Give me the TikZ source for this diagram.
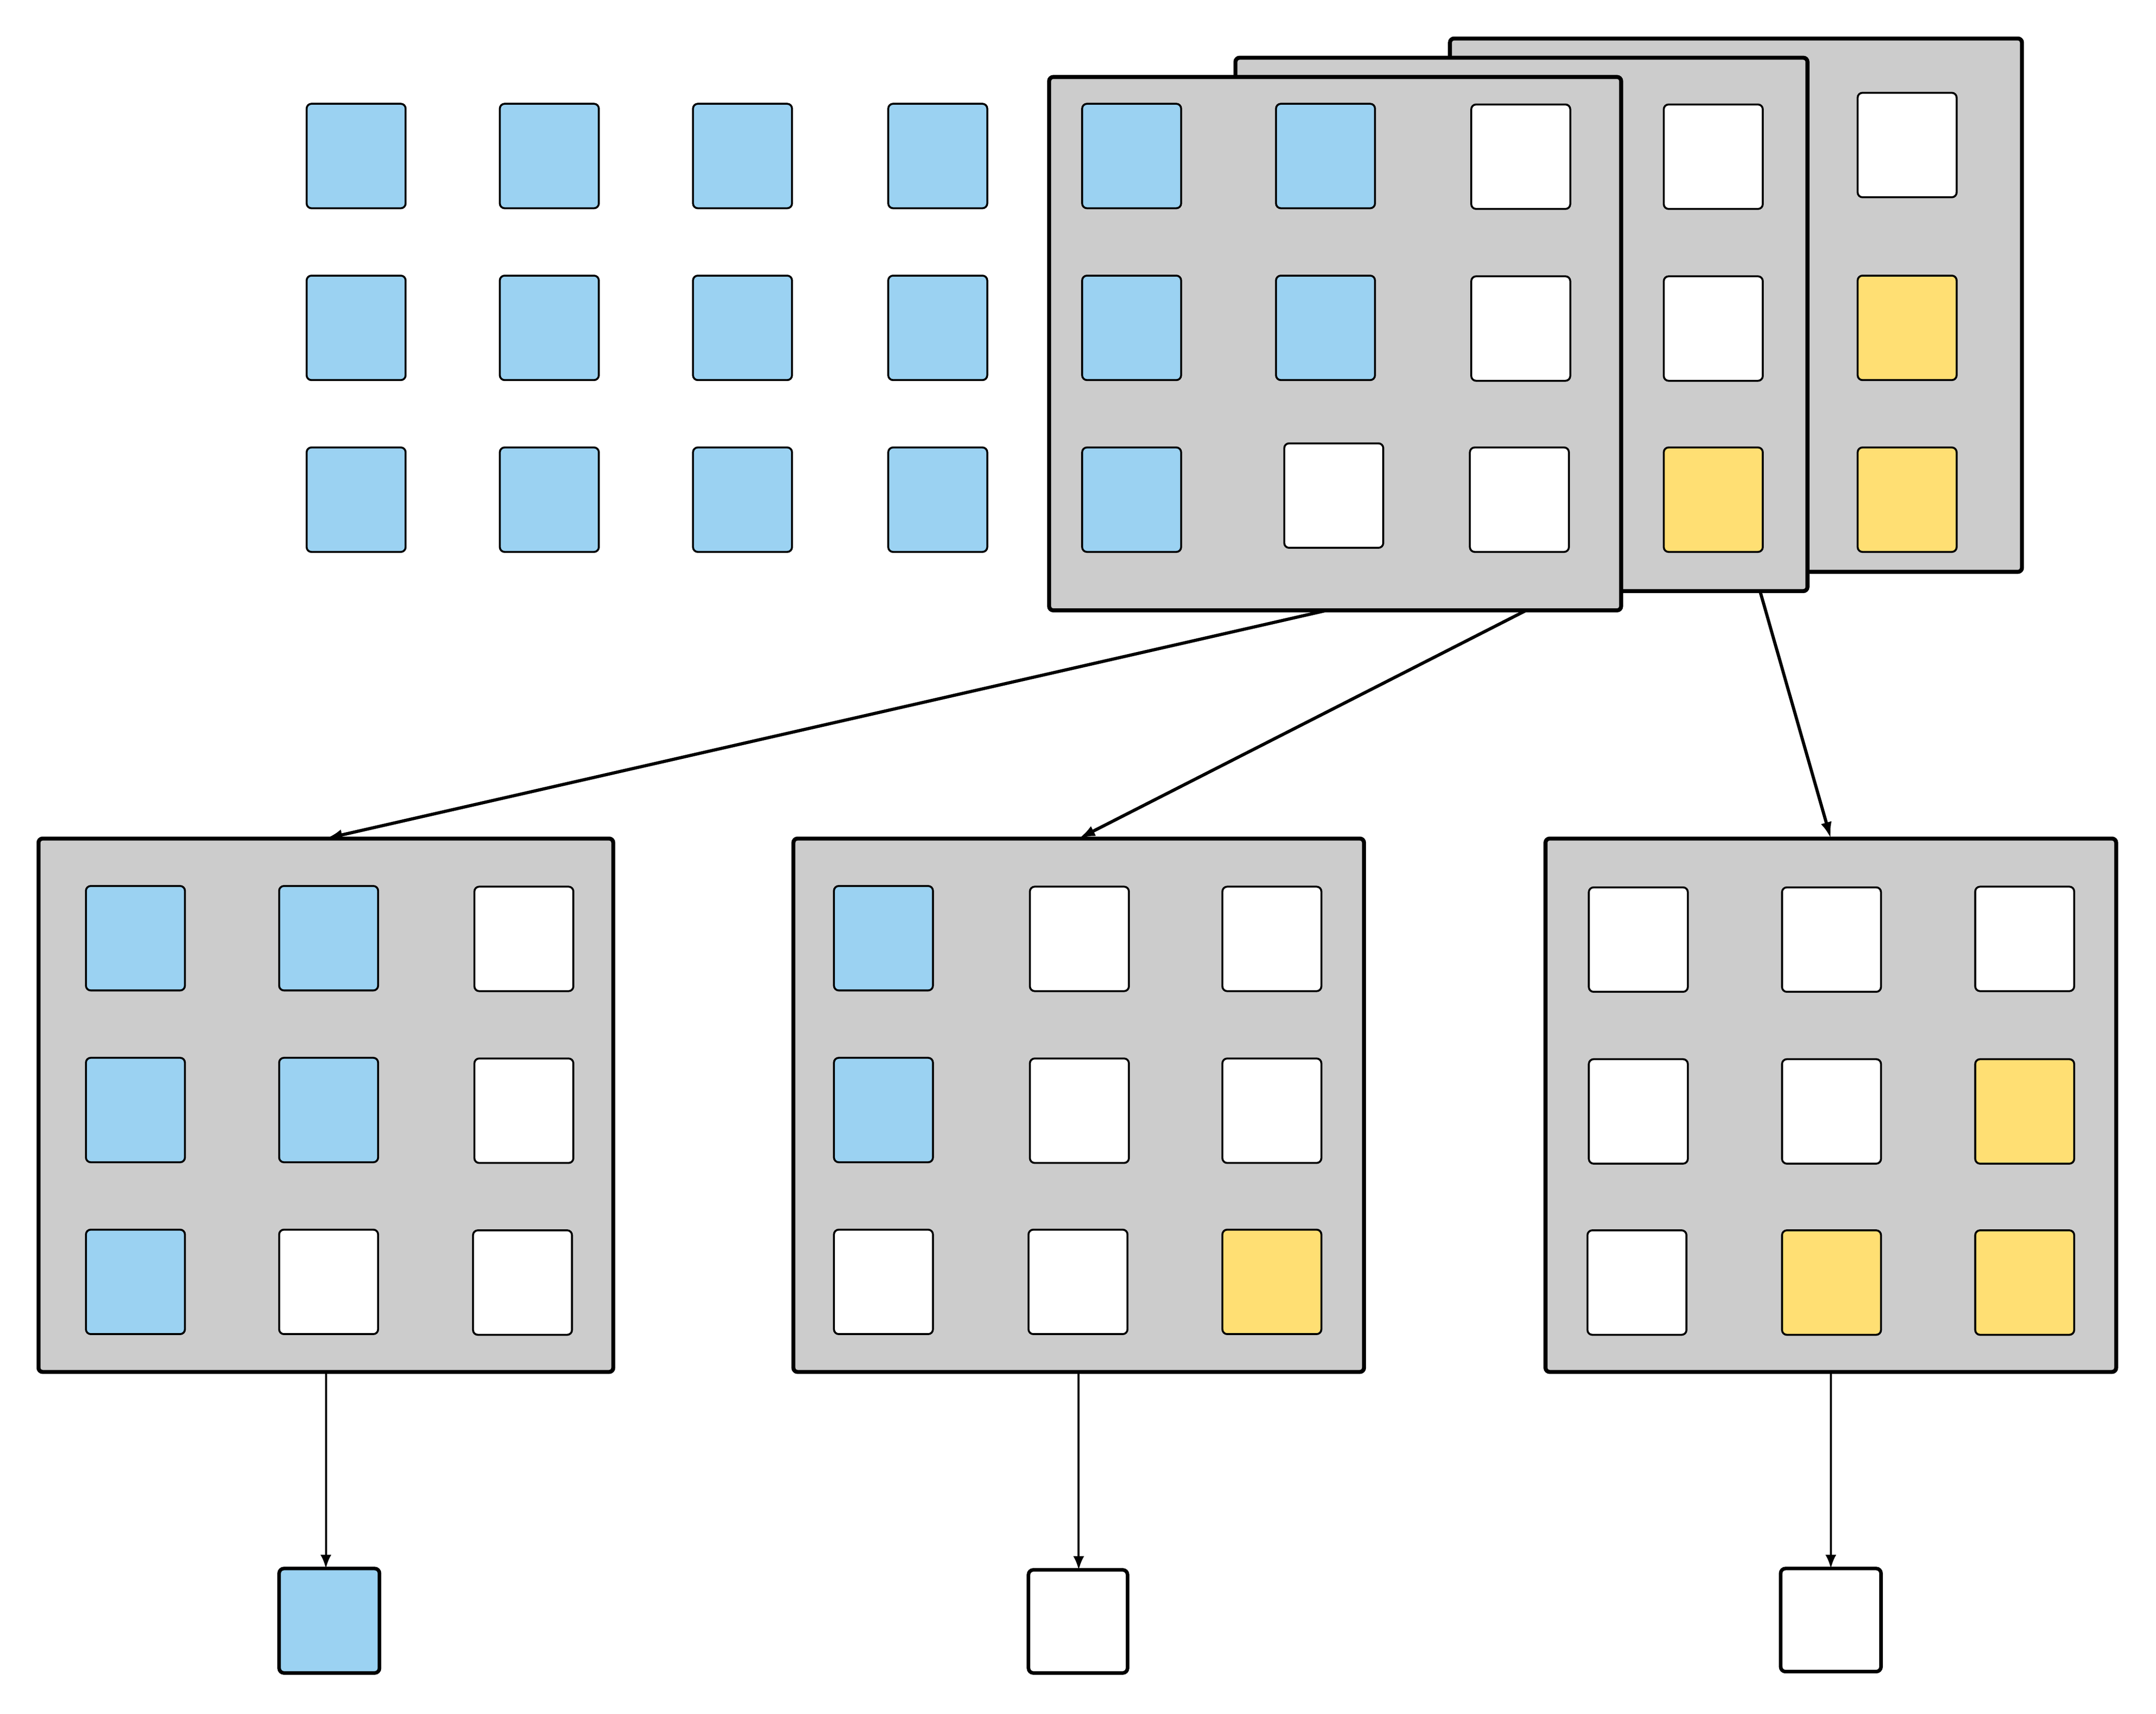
\documentclass[tikz,border=0pt]{standalone}
\usetikzlibrary{arrows.meta,calc}
\definecolor{cblue}{HTML}{9BD2F2}
\definecolor{cyel}{HTML}{FFDF73}
\definecolor{cgray}{HTML}{CCCCCC}
\tikzset{
  cell/.style={draw=black,line width=1.4pt,rounded corners=3.5pt,minimum width=72pt,minimum height=76pt,inner sep=0pt,outer sep=0pt},
  bc/.style={cell,fill=cblue},
  wc/.style={cell,fill=white},
  yc/.style={cell,fill=cyel},
  frame/.style={draw=black,line width=2.9pt,rounded corners=3pt,fill=cgray,minimum width=416pt,minimum height=388pt,inner sep=0pt,outer sep=0pt},
  outsq/.style={draw=black,line width=2.6pt,rounded corners=3.5pt,minimum width=72pt,minimum height=75pt,inner sep=0pt,outer sep=0pt},
  bigarr/.style={line width=2.3pt,-{Latex[length=12pt,width=8pt]}},
  smallarr/.style={line width=1.5pt,-{Latex[length=10pt,width=8pt]}}
}
\begin{document}
\begin{tikzpicture}[x=1pt,y=-1pt]
\useasboundingbox (0,0) rectangle (1568,1246.5);
% top-left grid
\foreach \cx [count=\i] in {259,399.5,540,682}{
  \foreach \cy [count=\j] in {113.5,238.5,363.5}{
    \node[bc] (g\i\j) at (\cx,\cy) {};
  }
}
% back frame
\node[frame] (back) at (1262.5,222) {};
\node[wc] (b13) at (1387,105.5) {};
\node[yc] (b23) at (1387,238.5) {};
\node[yc] (b33) at (1387,363.5) {};
% middle frame
\node[frame] (mid) at (1106.5,236) {};
\node[wc] (m13) at (1246,114) {};
\node[wc] (m23) at (1246,239) {};
\node[yc] (m33) at (1246,363.5) {};
% front frame
\node[frame] (front) at (971,250) {};
\node[bc] (f11) at (823,113.5) {};
\node[bc] (f12) at (964,113.5) {};
\node[wc] (f13) at (1106,114) {};
\node[bc] (f21) at (823,238.5) {};
\node[bc] (f22) at (964,238.5) {};
\node[wc] (f23) at (1106,239) {};
\node[bc] (f31) at (823,363.5) {};
\node[wc] (f32) at (970,360.5) {};
\node[wc] (f33) at (1105,363.5) {};
% bottom-left frame
\node[frame,minimum width=418pt] (BL) at (237,804) {};
\node[bc] (l11) at (98.5,682.5) {};
\node[bc] (l12) at (239,682.5) {};
\node[wc] (l13) at (381,683) {};
\node[bc] (l21) at (98.5,807.5) {};
\node[bc] (l22) at (239,807.5) {};
\node[wc] (l23) at (381,808) {};
\node[bc] (l31) at (98.5,932.5) {};
\node[wc] (l32) at (239,932.5) {};
\node[wc] (l33) at (380,933) {};
% bottom-middle frame
\node[frame,minimum width=415pt] (BM) at (784.5,804) {};
\node[bc] (n11) at (642.5,682.5) {};
\node[wc] (n12) at (785,683) {};
\node[wc] (n13) at (925,683) {};
\node[bc] (n21) at (642.5,807.5) {};
\node[wc] (n22) at (785,808) {};
\node[wc] (n23) at (925,808) {};
\node[wc] (n31) at (642.5,932.5) {};
\node[wc] (n32) at (784,932.5) {};
\node[yc] (n33) at (925,932.5) {};
% bottom-right frame
\node[frame,minimum width=415pt] (BR) at (1331.5,804) {};
\node[wc] (r11) at (1191.5,683.5) {};
\node[wc] (r12) at (1332,683.5) {};
\node[wc] (r13) at (1472.5,683) {};
\node[wc] (r21) at (1191.5,808.5) {};
\node[wc] (r22) at (1332,808.5) {};
\node[yc] (r23) at (1472.5,808.5) {};
\node[wc] (r31) at (1190.5,933) {};
\node[yc] (r32) at (1332,933) {};
\node[yc] (r33) at (1472.5,933) {};
% output squares
\node[outsq,fill=cblue,minimum width=73pt,minimum height=76pt] (o1) at (239.5,1179) {};
\node[outsq,fill=white] (o2) at (784,1179.5) {};
\node[outsq,fill=white,minimum width=73pt] (o3) at (1331.5,1178.5) {};
% arrows
\draw[bigarr] ([xshift=-6pt]front.south) -- (BL.north);
\draw[bigarr] ([xshift=139pt]front.south) -- (BM.north);
\draw[bigarr] ([xshift=173.5pt]mid.south) -- (BR.north);
\draw[smallarr] (BL.south) -- (BL.south |- o1.north);
\draw[smallarr] (BM.south) -- (BM.south |- o2.north);
\draw[smallarr] (BR.south) -- (BR.south |- o3.north);
\end{tikzpicture}
\end{document}
